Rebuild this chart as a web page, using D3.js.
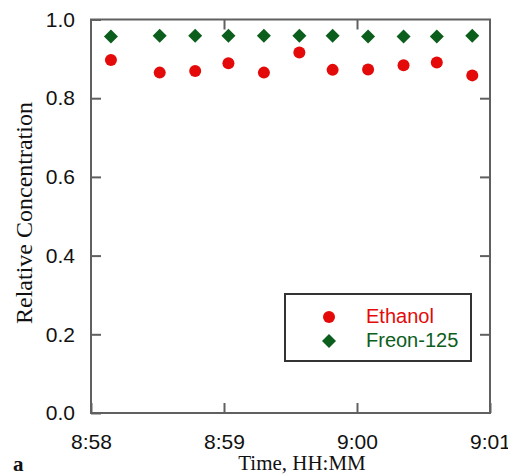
<!DOCTYPE html>
<html>
<head>
<meta charset="utf-8">
<script src="https://cdn.jsdelivr.net/npm/d3@7"></script>
<style>
  html, body { margin: 0; padding: 0; background: #fff; }
  svg { display: block; }
</style>
</head>
<body>
<svg id="chart" width="508" height="475"></svg>
<script>
// Sampling times (HH:MM:SS) and relative concentrations of each tracer
const sampleTimes = ["8:58:09", "8:58:31", "8:58:47", "8:59:02", "8:59:18", "8:59:34",
                     "8:59:49", "9:00:05", "9:00:21", "9:00:36", "9:00:52"];
const ethanol  = [0.897, 0.865, 0.869, 0.889, 0.865, 0.916, 0.872, 0.873, 0.884, 0.891, 0.858];
const freon125 = [0.957, 0.959, 0.959, 0.959, 0.959, 0.959, 0.959, 0.957, 0.957, 0.957, 0.959];
const seriesNames = ["Ethanol", "Freon-125"];
const xTickLabels = ["8:58", "8:59", "9:00", "9:01"];
const yTicks = [0, 0.2, 0.4, 0.6, 0.8, 1.0];

const RED = "#e40a0a", GREEN = "#0b5e1c", AXIS = "#606060";

const parseT = d3.timeParse("%H:%M:%S");
const parseM = d3.timeParse("%H:%M");
const xTicks = xTickLabels.map(parseM);

const svg = d3.select("#chart");
const L = 91, R = 490, T = 19.5, B = 413;

const x = d3.scaleTime().domain([xTicks[0], xTicks[xTicks.length - 1]]).range([L, R]);
const y = d3.scaleLinear().domain([0, 1]).range([B, T]);

const tickFont = "'Liberation Sans', Arial, sans-serif";
const serif = "'Liberation Serif', 'Times New Roman', serif";

// Bottom axis: inward ticks, labels below
const gx = svg.append("g").attr("transform", `translate(0,${B})`)
  .call(d3.axisBottom(x).tickValues(xTicks).tickFormat(d3.timeFormat("%-H:%M"))
    .tickSizeInner(-10).tickSizeOuter(0).tickPadding(21));
// Left axis
const gy = svg.append("g").attr("transform", `translate(${L},0)`)
  .call(d3.axisLeft(y).tickValues(yTicks).tickFormat(d3.format(".1f"))
    .tickSizeInner(-10).tickSizeOuter(0).tickPadding(16));
// Mirror ticks on top and right edges
const gt = svg.append("g").attr("transform", `translate(0,${T})`)
  .call(d3.axisTop(x).tickValues(xTicks.slice(1, -1)).tickFormat("")
    .tickSizeInner(-10).tickSizeOuter(0));
const gr = svg.append("g").attr("transform", `translate(${R},0)`)
  .call(d3.axisRight(y).tickValues(yTicks.slice(1, -1)).tickFormat("")
    .tickSizeInner(-10).tickSizeOuter(0));

[gx, gy, gt, gr].forEach(g => {
  g.select(".domain").remove();
  g.selectAll(".tick line").attr("stroke", AXIS).attr("stroke-width", 2);
  g.selectAll(".tick text").attr("fill", "#111")
    .style("font-family", tickFont).style("font-size", "21px");
});

// Plot frame
svg.append("rect").attr("x", L).attr("y", T).attr("width", R - L).attr("height", B - T)
  .attr("fill", "none").attr("stroke", AXIS).attr("stroke-width", 2);

// Data markers
const times = sampleTimes.map(parseT);
const diamond = d3.symbol().type(d3.symbolDiamond2).size(125);

svg.append("g").selectAll("path").data(freon125).join("path")
  .attr("transform", (d, i) => `translate(${x(times[i])},${y(d)})`)
  .attr("d", diamond).attr("fill", GREEN);

svg.append("g").selectAll("circle").data(ethanol).join("circle")
  .attr("cx", (d, i) => x(times[i])).attr("cy", d => y(d))
  .attr("r", 6).attr("fill", RED);

// Legend
const lg = svg.append("g");
lg.append("rect").attr("x", 285).attr("y", 294).attr("width", 186).attr("height", 67)
  .attr("fill", "#fff").attr("stroke", "#333").attr("stroke-width", 2);
lg.append("circle").attr("cx", 329).attr("cy", 317).attr("r", 6).attr("fill", RED);
lg.append("path").attr("transform", "translate(329,341)").attr("d", diamond).attr("fill", GREEN);
lg.append("text").attr("x", 366).attr("y", 323).text(seriesNames[0])
  .attr("fill", RED).style("font-family", tickFont).style("font-size", "20px");
lg.append("text").attr("x", 366).attr("y", 347).text(seriesNames[1])
  .attr("fill", GREEN).style("font-family", tickFont).style("font-size", "20px");

// Axis titles
svg.append("text").attr("transform", "translate(32,213) rotate(-90)")
  .attr("text-anchor", "middle").style("font-family", serif).style("font-size", "24px")
  .attr("fill", "#111").text("Relative Concentration");
svg.append("text").attr("x", 302).attr("y", 470)
  .attr("text-anchor", "middle").style("font-family", serif).style("font-size", "21px")
  .attr("fill", "#111").text("Time, HH:MM");
svg.append("text").attr("x", 13).attr("y", 471)
  .style("font-family", serif).style("font-size", "21px").style("font-weight", "bold")
  .attr("fill", "#111").text("a");
</script>
</body>
</html>
